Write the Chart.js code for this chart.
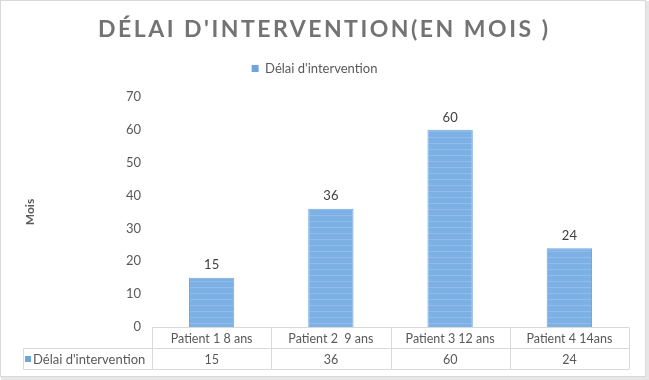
<!DOCTYPE html>
<html>
<head>
<meta charset="utf-8">
<script src="https://cdn.jsdelivr.net/npm/chart.js@4/dist/chart.umd.min.js"></script>
<style>
html,body{margin:0;padding:0;background:#fff;}
#wrap{position:relative;width:649px;height:380px;}
</style>
</head>
<body>
<div id="wrap"><canvas id="c" width="649" height="380"></canvas></div>
<script>
const chartTitle = "DÉLAI D'INTERVENTION(EN MOIS )";
const seriesName = "Délai d'intervention";
const yAxisTitle = "Mois";
const categories = ["Patient 1 8 ans", "Patient 2  9 ans", "Patient 3 12 ans", "Patient 4 14ans"];
const values = [15, 36, 60, 24];
const yTicks = [0, 10, 20, 30, 40, 50, 60, 70];

const FONT = "Lato, 'Open Sans', sans-serif";
const TEXT = '#595959';

function stripePattern() {
  const pc = document.createElement('canvas');
  pc.width = 4; pc.height = 6;
  const g = pc.getContext('2d');
  g.fillStyle = '#7DB0E4'; g.fillRect(0, 0, 4, 6);
  g.fillStyle = '#8EBDEB'; g.fillRect(0, 5, 4, 1);
  return g.createPattern(pc, 'repeat');
}

const framePlugin = {
  id: 'frame',
  beforeDraw(chart) {
    const ctx = chart.ctx;
    ctx.save();
    ctx.strokeStyle = '#d9d9d9';
    ctx.lineWidth = 1;
    ctx.strokeRect(0.5, 0.5, 645, 376);
    ctx.fillStyle = '#e6e6e6';
    ctx.fillRect(646, 1, 3, 378);
    ctx.fillRect(1, 377, 648, 3);
    ctx.restore();
  }
};

const titlePlugin = {
  id: 'bigTitle',
  afterDraw(chart) {
    const ctx = chart.ctx;
    ctx.save();
    ctx.font = "bold 23px " + FONT;
    ctx.fillStyle = '#737373';
    ctx.textBaseline = 'alphabetic';
    ctx.textAlign = 'left';
    const targetW = 450;
    ctx.letterSpacing = '0px';
    const w0 = ctx.measureText(chartTitle).width;
    const n = chartTitle.length - 1;
    const ls = Math.max(0, (targetW - w0) / n);
    ctx.letterSpacing = ls + 'px';
    ctx.fillText(chartTitle, 98, 37);
    ctx.restore();
  }
};

const labelsPlugin = {
  id: 'barLabels',
  afterDatasetsDraw(chart) {
    const ctx = chart.ctx;
    const meta = chart.getDatasetMeta(0);
    ctx.save();
    ctx.font = "13px " + FONT;
    ctx.fillStyle = '#404040';
    ctx.textAlign = 'center';
    ctx.textBaseline = 'bottom';
    meta.data.forEach((bar, i) => {
      ctx.fillText(String(values[i]), bar.x, bar.y - 6);
    });
    ctx.restore();
  }
};

const tablePlugin = {
  id: 'dataTable',
  afterDraw(chart) {
    const ctx = chart.ctx;
    const area = chart.chartArea;
    const xs = chart.scales.x;
    const n = categories.length;
    const colW = (area.right - area.left) / n;
    const top = Math.round(area.bottom) + 0.5;
    const mid = top + 21;
    const bot = top + 42;
    const leftEdge = 23.5;
    ctx.save();
    ctx.strokeStyle = '#d9d9d9';
    ctx.lineWidth = 1;
    ctx.beginPath();
    ctx.moveTo(area.left, top); ctx.lineTo(area.right, top);
    ctx.moveTo(leftEdge, mid); ctx.lineTo(area.right, mid);
    ctx.moveTo(leftEdge, bot); ctx.lineTo(area.right, bot);
    ctx.moveTo(leftEdge, mid); ctx.lineTo(leftEdge, bot);
    for (let i = 0; i <= n; i++) {
      const x = Math.round(area.left + i * colW) + 0.5;
      ctx.moveTo(x, top); ctx.lineTo(x, bot);
    }
    ctx.stroke();
    ctx.font = "12.5px " + FONT;
    ctx.fillStyle = TEXT;
    ctx.textAlign = 'center';
    ctx.textBaseline = 'middle';
    for (let i = 0; i < n; i++) {
      const cx = xs.getPixelForValue(i);
      ctx.fillText(categories[i], cx, (top + mid) / 2 + 1);
      ctx.fillText(String(values[i]), cx, (mid + bot) / 2 + 1);
    }
    ctx.fillStyle = '#6FA5DD';
    ctx.fillRect(25, (mid + bot) / 2 - 3, 6, 6);
    ctx.font = "13px " + FONT;
    ctx.fillStyle = TEXT;
    ctx.textAlign = 'left';
    ctx.fillText(seriesName, 33, (mid + bot) / 2 + 1);
    ctx.restore();
  }
};

new Chart(document.getElementById('c'), {
  type: 'bar',
  data: {
    labels: categories,
    datasets: [{
      label: seriesName,
      data: values,
      backgroundColor: stripePattern(),
      borderColor: '#6FA5DD',
      borderWidth: 1,
      barPercentage: 0.38,
      categoryPercentage: 1.0
    }]
  },
  options: {
    responsive: false,
    animation: false,
    layout: { padding: { top: 52, right: 20, bottom: 53, left: 0 } },
    plugins: {
      legend: {
        display: true,
        position: 'top',
        labels: {
          boxWidth: 7, boxHeight: 7, padding: 10,
          color: TEXT,
          font: { family: FONT, size: 13 },
          generateLabels(chart) {
            return [{ text: seriesName, fillStyle: '#6FA5DD', strokeStyle: '#6FA5DD', lineWidth: 0, fontColor: TEXT, datasetIndex: 0, hidden: false }];
          }
        }
      },
      subtitle: {
        display: true, text: '', weight: 500,
        font: { size: 10, lineHeight: 1 },
        padding: { top: 2, bottom: 0 }
      },
      title: { display: false },
      tooltip: { enabled: false }
    },
    scales: {
      x: {
        display: false,
        offset: true
      },
      y: {
        min: 0, max: 70,
        afterFit(scale) { scale.width = 152; },
        afterBuildTicks(scale) { scale.ticks = yTicks.map(v => ({ value: v })); },
        grid: { display: false, drawTicks: false },
        border: { display: false },
        ticks: {
          padding: 11,
          color: TEXT,
          font: { family: FONT, size: 13 }
        },
        title: {
          display: true, text: yAxisTitle,
          color: TEXT,
          font: { family: FONT, size: 12, weight: 'bold' },
          padding: { top: 23, bottom: 0 }
        }
      }
    }
  },
  plugins: [framePlugin, titlePlugin, labelsPlugin, tablePlugin]
});
</script>
</body>
</html>
